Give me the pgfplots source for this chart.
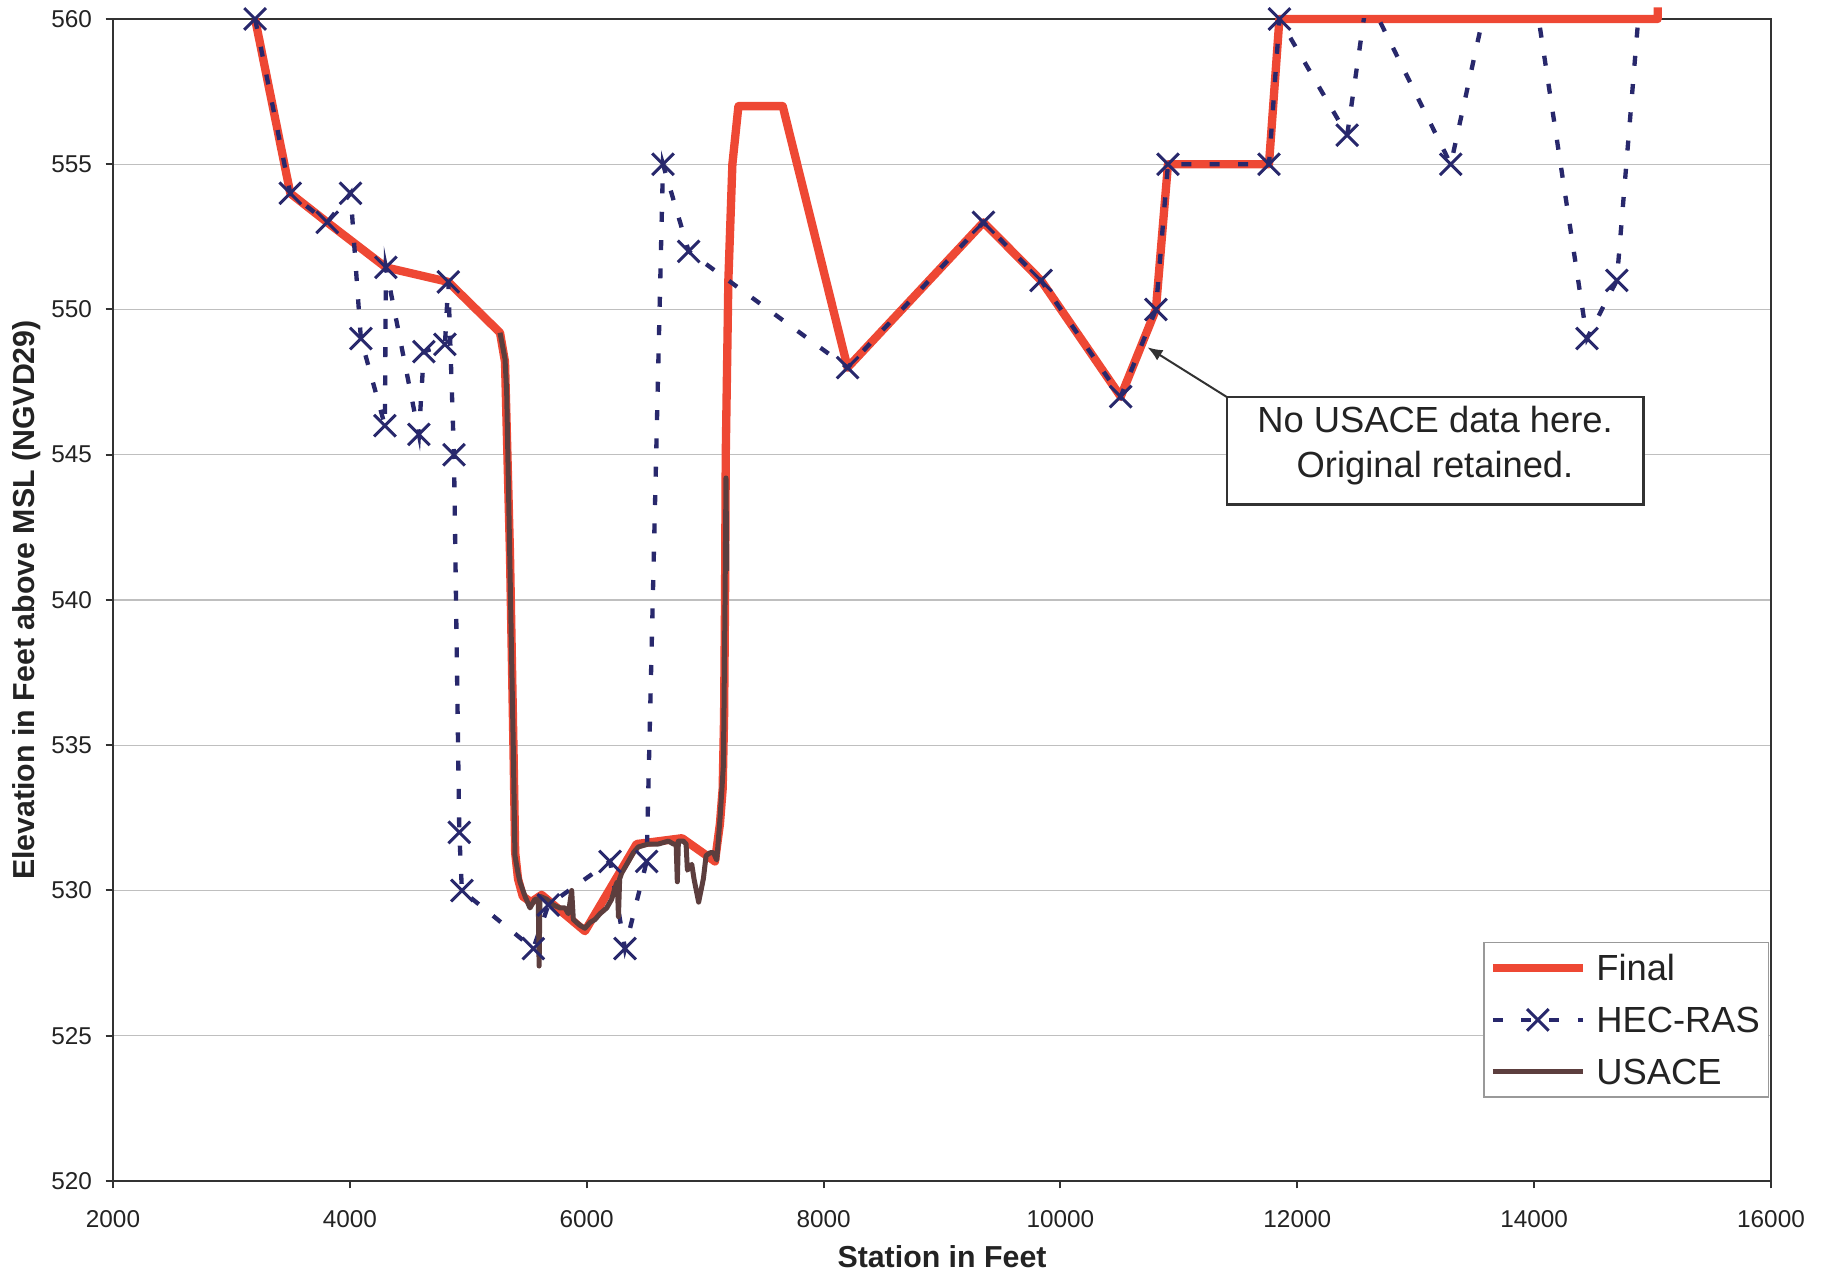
\documentclass[border=0pt]{standalone}
\usepackage{pgfplots}
\usepackage{pgfplotstable}
\pgfplotsset{compat=1.18}
\usepackage{fontspec}
\setmainfont{Liberation Sans}
\usetikzlibrary{arrows.meta}

\definecolor{finalred}{RGB}{238,72,52}
\definecolor{hecblue}{RGB}{40,40,108}
\definecolor{usacebrown}{RGB}{92,62,62}
\definecolor{framegray}{RGB}{50,50,50}
\definecolor{txt}{RGB}{35,35,35}

\pgfplotstableread{
x y
3200 560
3497 554
3809 553
4006 554
4093 549
4296 546
4304 551.45
4583 545.7
4625 548.55
4803 548.8
4831 550.95
4879 545
4924 532
4946 530
5549 528
5676 529.5
6197 531
6323 528
6506 531
6644 555
6861 552
8203 548
9350 553
9836 551
10509 547
10806 550
10908 555
11761 555
11849 560
12421 556
12590 560.8
13296 555
13845 565.2
14446 549
14698 551
15040 568
}\hecdata

\pgfplotstableread{
x y
3200 560
3497 554
3809 553
4304 551.45
4831 550.95
5268 549.2
5310 548.2
5352 541.6
5382 534.8
5396 531.3
5420 530.4
5460 529.8
5530 529.6
5619 529.85
5985 528.6
6421 531.6
6520 531.65
6805 531.8
7083 531.0
7125 532.3
7148 533.5
7160 536
7168 540
7174 545
7196 551
7230 555
7281 557
7655 557
8203 548
9350 553
9836 551
10509 547
10806 550
10908 555
11761 555
11849 560
15043 560
15043 560.4
}\finaldata

\pgfplotstableread{
x y
5268 549.2
5310 548.3
5324 547.2
5352 541.1
5380 534.9
5394 531.2
5420 530.6
5436 530.3
5479 529.8
5521 529.4
5563 529.7
5591 529.7
5598 527.4
5605 529.8
5662 529.7
5718 529.5
5774 529.4
5817 529.4
5845 529.2
5873 530.0
5887 529.0
5943 528.8
5985 528.7
6028 528.9
6070 529.0
6112 529.2
6169 529.4
6211 529.7
6239 530.1
6258 530.3
6268 529.1
6278 530.4
6295 530.6
6338 530.9
6394 531.3
6436 531.5
6521 531.6
6605 531.6
6690 531.7
6732 531.6
6755 531.6
6765 530.3
6774 531.7
6816 531.7
6839 531.6
6850 530.7
6887 530.9
6906 530.4
6945 529.6
6985 530.4
7008 531.2
7042 531.3
7070 531.3
7098 531.05
7126 532.5
7154 534.3
7160 536.6
7168 540
7176 544.2
7182 541
}\usacedata

\pgfplotsset{
  base/.style={
    width=497.4pt, height=348.6pt, scale only axis,
    xmin=2000, xmax=16000, ymin=520, ymax=560,
  },
  finalstyle/.style={finalred, line width=2.5pt, line join=round},
  hecstyle/.style={hecblue, line width=1.3pt, dash pattern=on 3pt off 5.5pt},
  hecmark/.style={mark=x, mark size=4.6pt, mark options={solid, line width=0.9pt, hecblue}},
}

\begin{document}
\begin{tikzpicture}
% axis 1: frame, grid, ticks, labels, Final (unclipped)
\begin{axis}[base, clip=false,
  axis line style={framegray, line width=0.8pt},
  xtick={2000,4000,...,16000}, ytick={520,525,...,560},
  scaled x ticks=false, scaled y ticks=false,
  tick pos=left, tick align=outside, major tick length=2.2pt,
  tick style={framegray, line width=0.6pt},
  ymajorgrids, grid style={line width=0.4pt, color=black!25},
  /pgf/number format/assume math mode=true,
  /pgf/number format/set thousands separator={},
  /pgf/number format/fixed,
  ticklabel style={font=\fontsize{7.3}{8}\selectfont, text=txt},
  xticklabel style={yshift=-3pt},
  yticklabel style={xshift=-0.6pt},
  xlabel={Station in Feet}, ylabel={Elevation in Feet above MSL (NGVD29)},
  label style={font=\bfseries\fontsize{9.1}{11}\selectfont, text=txt},
  xlabel style={at={(axis description cs:0.5,-0.06512)}, anchor=center},
  ylabel style={at={(axis description cs:-0.05187,0.5)}, anchor=center},
]
\addplot[finalstyle] table {\finaldata};
\coordinate (ll) at (rel axis cs:0,0);
\coordinate (ur) at (rel axis cs:1,1);
\end{axis}
% axis 2: HEC-RAS line (clipped)
\begin{axis}[base, hide axis, clip=true]
\addplot[hecstyle] table {\hecdata};
\end{axis}
% axis 3: markers, USACE, legend, annotation (unclipped)
\begin{axis}[base, hide axis, clip=false,
  legend style={at={(0.999,0.0714)}, anchor=south east, draw=black!40, line width=0.5pt, fill=white,
    font=\fontsize{10.9}{13}\selectfont, text=txt,
    inner xsep=1.4pt, inner ysep=3.5pt, row sep=7.4pt, column sep=1.6pt,
    nodes={inner xsep=1.2pt, inner ysep=0pt, text height=8pt, text depth=0.2pt}},
  legend cell align=left,
  legend image code/.code={\draw[mark repeat=2,mark phase=2,#1] plot coordinates {(0pt,0pt) (13.5pt,0pt) (27pt,0pt)};},
]
\addlegendimage{finalstyle}
\addlegendimage{hecstyle, hecmark}
\addplot[only marks, hecmark, forget plot, restrict y to domain=519:560.1] table {\hecdata};
\addplot[usacebrown, line width=1.5pt, line join=round] table {\usacedata};
\legend{Final, HEC-RAS, USACE}
\draw[framegray, line width=0.6pt, -{Latex[length=4.5pt,width=3.6pt]}] (axis cs:11404,546.99) -- (axis cs:10735,548.7);
\node[draw=framegray, line width=0.7pt, fill=white, minimum width=125pt, minimum height=32.2pt, inner sep=0pt] at (axis cs:13163,545.14) {};
\node[anchor=base, inner sep=0pt, text=txt, font=\fontsize{10.9}{13}\selectfont] at (axis cs:13163,545.75) {No USACE data here.};
\node[anchor=base, inner sep=0pt, text=txt, font=\fontsize{10.9}{13}\selectfont] at (axis cs:13163,544.23) {Original retained.};
\end{axis}
\pgfresetboundingbox
\path[use as bounding box] ([shift={(-33.9pt,-28.2pt)}]ll) rectangle ([shift={(17.7pt,5.7pt)}]ur);
\end{tikzpicture}
\end{document}
